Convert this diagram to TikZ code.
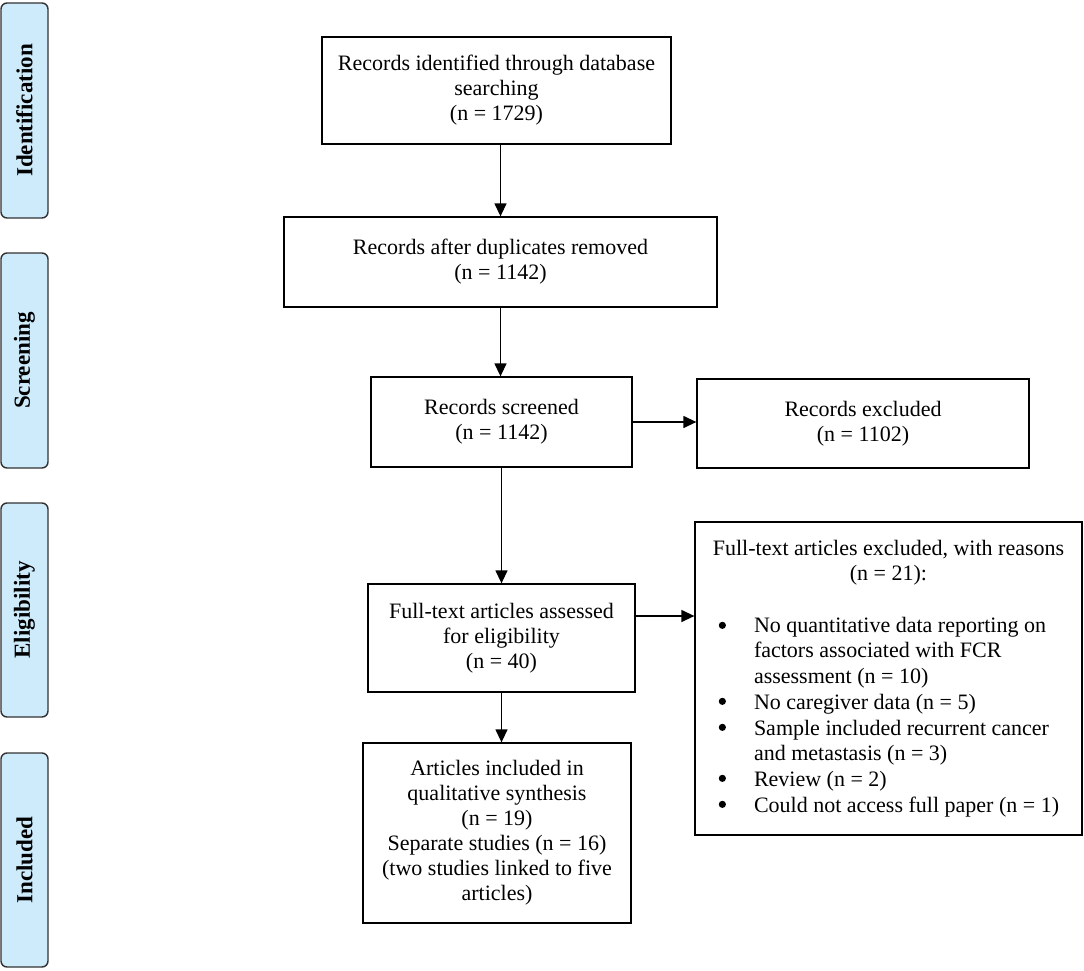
\documentclass[tikz,border=0pt]{standalone}
\usepackage{fontspec}
\setmainfont{Liberation Serif}
\usetikzlibrary{arrows.meta}
\definecolor{sidefill}{RGB}{206,235,252}
\definecolor{sidedraw}{RGB}{50,50,50}
\begin{document}
\begin{tikzpicture}[x=1pt,y=-1pt,
  box/.style={draw=black, line width=1.3pt, inner sep=0pt, align=center,
    font=\fontsize{22}{25}\selectfont},
  phase/.style={draw=sidedraw, fill=sidefill, line width=1.4pt, rounded corners=6pt,
    minimum width=47pt, inner sep=0pt},
  phasetext/.style={rotate=90, font=\fontsize{23}{26}\selectfont\bfseries},
  arr/.style={line width=1.3pt, -{Triangle[length=13pt,width=12pt]}},
  bul/.style={fill=black}]
\useasboundingbox (0,0) rectangle (1084,971);

% phase labels
\node[phase, minimum height=215pt] (pid) at (24.5,110.5) {};
\node[phasetext] (tid) at (pid.center) {Identification};
\node[phase, minimum height=215pt] (psc) at (24.5,360.5) {};
\node[phasetext] (tsc) at (psc.center) {Screening};
\node[phase, minimum height=214pt] (pel) at (24.5,610) {};
\node[phasetext] (tel) at (pel.center) {Eligibility};
\node[phase, minimum height=214pt] (pin) at (24.5,860) {};
\node[phasetext] (tin) at (pin.center) {Included};

% boxes
\node[box, minimum width=349pt, minimum height=107pt] (b1) at (496.5,90.5)
  {Records identified through database\\searching\\(n = 1729)};
\node[box, minimum width=433pt, minimum height=90pt] (b2) at (500.5,262)
  {Records after duplicates removed\\(n = 1142)};
\node[box, minimum width=261pt, minimum height=90pt] (b3) at (501.5,422)
  {Records screened\\(n = 1142)};
\node[box, minimum width=332pt, minimum height=89pt] (b4) at (863,423.5)
  {Records excluded\\(n = 1102)};
\node[box, minimum width=267pt, minimum height=108pt] (b5) at (501.5,638)
  {Full-text articles assessed\\for eligibility\\(n = 40)};
\node[box, minimum width=387pt, minimum height=313pt] (b6) at (888.5,678.5)
  {\fontsize{22}{25.7}\selectfont
   \begin{tabular}{@{}p{45.5pt}@{}p{314.5pt}@{}}
   \multicolumn{2}{@{}c@{}}{Full-text articles excluded, with reasons}\\
   \multicolumn{2}{@{}c@{}}{(n = 21):}\\
   \multicolumn{2}{@{}c@{}}{}\\
    & No quantitative data reporting on\\
    & factors associated with FCR\\
    & assessment (n = 10)\\
    & No caregiver data (n = 5)\\
    & Sample included recurrent cancer\\
    & and metastasis (n = 3)\\
    & Review (n = 2)\\
    & Could not access full paper (n = 1)
   \end{tabular}};
\node[box, minimum width=268pt, minimum height=180pt] (b7) at (497,833)
  {Articles included in\\qualitative synthesis\\(n = 19)\\Separate studies (n = 16)\\(two studies linked to five\\articles)};

% bullets of the exclusion list
\foreach \dy in {104,180,206,257,283}
  \fill[bul] ([xshift=28pt,yshift=-\dy pt]b6.north west) circle (3.6pt);

% connectors
\draw[arr] (b2.north |- b1.south) -- (b2.north);
\draw[arr] (b2.south) -- (b2.south |- b3.north);
\draw[arr] (b3.east) -- (b4.west |- b3.east);
\draw[arr] (b3.south) -- (b3.south |- b5.north);
\draw[arr] ([yshift=22pt]b5.east) coordinate (a5s) -- (a5s -| b6.west);
\draw[arr] (b5.south) -- (b5.south |- b7.north);
\end{tikzpicture}
\end{document}
